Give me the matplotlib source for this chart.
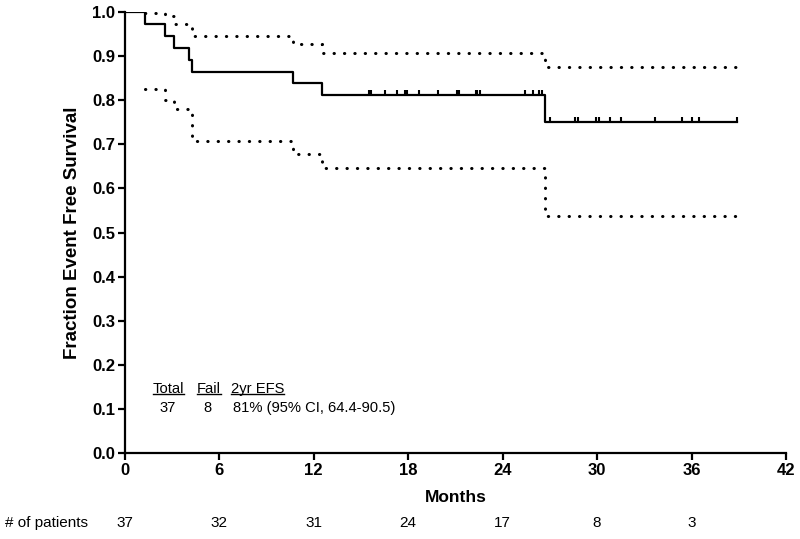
import matplotlib
matplotlib.use("Agg")
import matplotlib.pyplot as plt
import matplotlib.transforms as mtransforms
import numpy as np

# Kaplan-Meier estimate (months, fraction event free)
km_t = [0, 1.27, 2.54, 3.1, 4.1, 4.25, 10.7, 12.5, 26.7, 38.9]
km_s = [1.0, 0.973, 0.946, 0.919, 0.892, 0.865, 0.840, 0.812, 0.750, 0.750]

# 95% confidence bands
ci_t = [1.27, 2.54, 3.1, 4.1, 4.25, 10.7, 12.5, 26.7, 38.9]
ci_upper = [0.999, 0.99, 0.974, 0.966, 0.945, 0.927, 0.907, 0.875, 0.875]
ci_lower = [0.825, 0.80, 0.78, 0.77, 0.707, 0.678, 0.646, 0.537, 0.537]

# censored observations
censor_t = [15.5, 15.65, 16.5, 17.3, 17.8, 17.9, 18.7, 19.9, 21.1, 21.25,
            22.3, 22.4, 22.55, 25.4, 25.9, 26.3, 26.5,
            27.0, 28.6, 28.8, 29.9, 30.1, 30.8, 31.5, 33.7, 35.4, 36.0, 36.5, 38.9]

risk_t = [0, 6, 12, 18, 24, 30, 36]
risk_n = [37, 32, 31, 24, 17, 8, 3]

plt.rcParams['font.family'] = ['Liberation Sans', 'DejaVu Sans']

fig = plt.figure(figsize=(8, 5.39), dpi=100)
ax = fig.add_axes([0.156, 0.1596, 0.8265, 0.818])

ax.step(km_t, km_s, where='post', color='black', lw=1.6)
ax.step(ci_t, ci_upper, where='post', color='black', lw=2.2,
        linestyle=(0, (0.1, 3.3)), dash_capstyle='round')
ax.step(ci_t, ci_lower, where='post', color='black', lw=2.2,
        linestyle=(0, (0.1, 3.3)), dash_capstyle='round')

# censor ticks sit on the curve and point upward
censor_s = np.array([km_s[np.searchsorted(km_t, c, side='right') - 1] for c in censor_t])
ax.vlines(censor_t, censor_s, censor_s + 0.012, color='black', lw=1.5)

ax.set_xlim(0, 42)
ax.set_ylim(0, 1.0)
ax.set_xticks(np.arange(0, 43, 6))
ax.set_yticks(np.arange(0, 1.01, 0.1))
ax.set_yticklabels([f"{v:.1f}" for v in np.arange(0, 1.01, 0.1)])
for side in ['top', 'right']:
    ax.spines[side].set_visible(False)
for side in ['left', 'bottom']:
    ax.spines[side].set_linewidth(1.6)
ax.tick_params(direction='out', length=5, width=1.6, labelsize=12, pad=2)
for lab in ax.get_xticklabels() + ax.get_yticklabels():
    lab.set_fontweight('bold')

ax.set_xlabel('Months', fontsize=12.5, fontweight='bold', labelpad=9)
ax.set_ylabel('Fraction Event Free Survival', fontsize=13.5, fontweight='bold', labelpad=8)

# summary table
head = [(1.78, 'Total'), (4.6, 'Fail'), (6.75, '2yr EFS')]
row = [(2.2, '37'), (5.0, '8'), (6.85, '81% (95% CI, 64.4-90.5)')]
heads = [ax.text(x, 0.146, s, fontsize=10.6, va='center') for x, s in head]
for x, s in row:
    ax.text(x, 0.102, s, fontsize=10.6, va='center')

# underline the table headers
fig.canvas.draw()
inv = fig.transFigure.inverted()
for t in heads:
    bb = t.get_window_extent()
    (x0, y0), (x1, y1) = inv.transform([(bb.x0, bb.y0 + 2), (bb.x1, bb.y0 + 2)])
    fig.lines.append(plt.Line2D([x0, x1], [y0, y1], transform=fig.transFigure,
                                color='black', lw=1.0, figure=fig))

# number at risk row
trans = mtransforms.blended_transform_factory(ax.transData, fig.transFigure)
fig.text(0.006, 0.03, '# of patients', fontsize=11, va='center',
         family=['Liberation Sans Narrow', 'Liberation Sans'])
for x, n in zip(risk_t, risk_n):
    fig.text(x, 0.03, str(n), transform=trans, fontsize=11, ha='center', va='center',
             family=['Liberation Sans Narrow', 'Liberation Sans'])

fig.savefig('out.png', dpi=100)
